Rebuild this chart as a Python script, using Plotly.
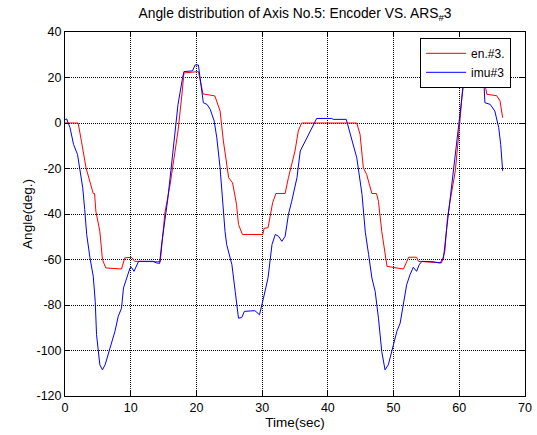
import plotly.graph_objects as go

t_en = [0, 2.0, 2.5, 3.2, 4.3, 4.5, 4.7, 5.3, 5.7, 6.2, 8.6, 9.1, 10.1, 10.6, 14.5, 15.2, 16.0, 16.7,
        17.2, 17.8, 18.1, 20.3, 21.0, 22.8, 23.6, 24.1, 24.9, 25.5, 26.1, 26.4, 27.0, 30.1, 30.3, 30.9,
        31.6, 32.1, 33.5, 34.0, 34.5, 35.0, 35.5, 36.0, 44.4, 44.9, 45.4, 45.9, 46.7, 47.4, 47.7, 48.2,
        49.0, 51.5, 52.3, 53.5, 53.8, 57.3, 57.8, 58.2, 58.6, 59.4, 60.1, 60.6, 61.2, 63.5, 63.7, 64.2,
        65.7, 66.2, 66.6]
en = [0, 0, -8, -19.7, -31, -31, -38.8, -47.6, -60, -63.7, -64.2, -59.3, -59, -60.8, -61, -39.5, -27, -13.7,
      -3.5, 12.8, 22, 22.6, 12.8, 11.9, 5.3, -7.9, -24, -26.3, -35.7, -44.6, -49, -49, -46.3, -46,
      -35, -31, -31, -24, -18.2, -12.3, -3.5, 0, 0, -5, -19.7, -22.6, -31, -31, -34.4, -47.6,
      -63, -64.2, -59, -59, -60.8, -61.5, -56.4, -41.7, -34.4, -21, 0.9, 18.5, 22, 22, 20, 12.6,
      12, 9.7, 2.3]

t_imu = [0, 0.25, 0.76, 1.3, 1.9, 2.3, 2.7, 3.0, 3.3, 3.8, 4.3, 4.6, 4.8, 5.3, 5.7, 6.1, 6.6, 7.1, 7.6,
         8.1, 8.6, 8.9, 9.4, 9.9, 10.1, 10.5, 11.2, 13.4, 13.9, 14.4, 14.7, 15.2, 15.6, 16.0, 16.6, 17.2,
         17.9, 18.1, 19.4, 19.8, 20.3, 20.65, 21.05, 21.6, 22.1, 22.7, 23.1, 23.6, 23.85, 24.35, 24.6,
         25.4, 25.9, 26.4, 26.9, 27.3, 28.9, 29.6, 30.2, 30.9, 31.5, 32.0, 32.5, 33.0, 33.5, 34.0, 34.5,
         35.3, 35.8, 36.8, 37.5, 38.3, 40.6, 40.8, 42.8, 43.4, 43.9, 44.4, 45.2, 45.7, 46.2, 46.7, 47.2,
         47.7, 48.2, 48.7, 49.2, 50.0, 50.5, 51.0, 51.5, 52.0, 52.5, 53.0, 53.5, 53.9, 54.3, 56.0, 57.1,
         57.6, 58.1, 58.9, 59.6, 60.4, 60.7, 61.2, 62.3, 62.6, 63.2, 63.7, 63.9, 64.7, 65.4, 66.0, 66.3,
         66.6]
imu = [1.5, 1.8, -2, -9.4, -13.8, -21, -28.5, -38, -49, -59.3, -67.4, -78.4, -93, -106.3, -108.5, -106.3,
       -101, -96, -91.6, -85, -81.4, -72.5, -68, -63.7, -63.4, -65.2, -60.8, -60.8, -61.5, -61.7, -53.4,
       -43.2, -34.4, -24, -6.5, 8.2, 20, 22.6, 22.9, 25.5, 25.5, 17, 8.9, 8.2, 6, 0.9, -6.5, -19.7, -30,
       -47.6, -53.4, -62.3, -74, -85.8, -85.5, -82.8, -82.5, -84.3, -77, -68, -53.4, -49, -49.8, -52,
       -49.8, -40.2, -34.4, -24, -12.3, -6.5, -2, 2, 2, 1.6, 1.6, -5, -10.9, -15.3, -31.4, -48, -57.8,
       -68.1, -74, -85.8, -100.4, -108.5, -106.3, -97.5, -91.6, -88, -79.9, -71, -66.7, -63.4, -65.2,
       -62.3, -60.8, -61, -61.5, -59.3, -46, -25.6, -6.5, 11.2, 18.5, 22, 22, 25, 25, 20, 8.9, 8.2, 5.3,
       -2, -9.4, -21]

x_ticks = [0, 10, 20, 30, 40, 50, 60, 70]
y_ticks = [40, 20, 0, -20, -40, -60, -80, -100, -120]

FONT = "Liberation Sans, Arial, sans-serif"

fig = go.Figure()
fig.add_trace(go.Scatter(x=t_en, y=en, mode="lines", name="en.#3.",
                         line=dict(color="#ff0000", width=1)))
fig.add_trace(go.Scatter(x=t_imu, y=imu, mode="lines", name="imu#3",
                         line=dict(color="#0000ff", width=1)))

axis_common = dict(showline=True, linecolor="black", linewidth=1, mirror="ticks",
                   ticks="inside", ticklen=5, tickcolor="black", automargin=False,
                   showgrid=True, gridcolor="black", griddash="1px,1px", gridwidth=1,
                   zeroline=False, tickfont=dict(family=FONT, size=12.5, color="black"))

fig.update_xaxes(range=[0, 70], tickvals=x_ticks, ticktext=[str(v) for v in x_ticks],
                 title=dict(text="Time(sec)", font=dict(family=FONT, size=13.5, color="black"), standoff=0),
                 **axis_common)
fig.update_yaxes(range=[-120, 40], tickvals=y_ticks, ticktext=[str(v) for v in y_ticks],
                 title=dict(text="Angle(deg.)", font=dict(family=FONT, size=13.5, color="black"), standoff=0),
                 **axis_common)

fig.update_layout(
    width=537, height=435,
    margin=dict(l=65, r=12, t=32, b=39),
    paper_bgcolor="white", plot_bgcolor="white",
    title=dict(text="Angle distribution of Axis No.5: Encoder VS. ARS<sub>#</sub>3",
               font=dict(family=FONT, size=13.8, color="black"),
               x=0.5, xref="paper", xanchor="center", y=1 - 13 / 435, yref="container", yanchor="middle"),
    legend=dict(x=0.772, y=0.984, xanchor="left", yanchor="top",
                bgcolor="white", bordercolor="black", borderwidth=1,
                font=dict(family=FONT, size=12, color="black"),
                tracegroupgap=0, itemwidth=40),
    showlegend=True,
)

fig.write_html("out.html", config={"displayModeBar": False},
               post_script="document.body.style.margin='0';")
